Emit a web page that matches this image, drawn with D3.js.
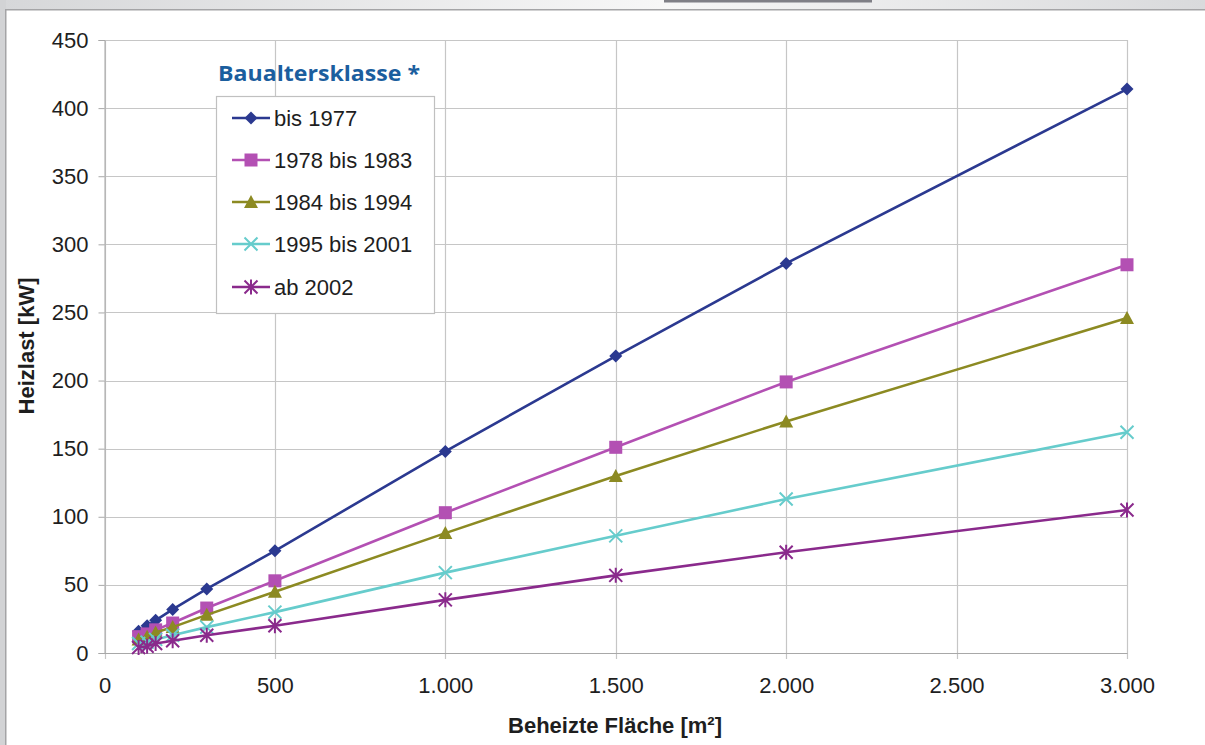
<!DOCTYPE html>
<html><head><meta charset="utf-8">
<script src="https://cdn.jsdelivr.net/npm/d3@7"></script>
<style>
html,body{margin:0;padding:0;background:#fff;}
svg{display:block;}
</style></head>
<body>
<svg id="c" width="1205" height="745"></svg>
<script>
const areas = [100, 125, 150, 200, 300, 500, 1000, 1500, 2000, 3000];
const seriesNames = ["bis 1977", "1978 bis 1983", "1984 bis 1994", "1995 bis 2001", "ab 2002"];
const bis1977   = [16, 20, 24, 32, 47, 75, 148, 218, 286, 414];
const s1978_1983 = [12, 14, 17, 22, 33, 53, 103, 151, 199, 285];
const s1984_1994 = [10, 12, 15, 19, 28, 45, 88, 130, 170, 246];
const s1995_2001 = [7, 8, 10, 13, 19, 30, 59, 86, 113, 162];
const ab2002    = [4, 5, 7, 9, 13, 20, 39, 57, 74, 105];
const xTicks = [0, 500, 1000, 1500, 2000, 2500, 3000];
const xTickLabels = ["0", "500", "1.000", "1.500", "2.000", "2.500", "3.000"];
const yTicks = [0, 50, 100, 150, 200, 250, 300, 350, 400, 450];

const seriesValues = [bis1977, s1978_1983, s1984_1994, s1995_2001, ab2002];
const colors = ["#2b3990", "#b350b3", "#8c8a22", "#66cccc", "#8a2a8c"];
const markers = ["diamond", "square", "triangle", "x", "asterisk"];
const FONT = "Liberation Sans, Arial, sans-serif";

const svg = d3.select("#c");

// frame decoration
const defs = svg.append("defs");
const grad = defs.append("linearGradient").attr("id","tg").attr("x1","0").attr("x2","1");
grad.append("stop").attr("offset","0").attr("stop-color","#d6d7d9");
grad.append("stop").attr("offset","0.55").attr("stop-color","#f7f7f7");
grad.append("stop").attr("offset","1").attr("stop-color","#d9dadc");
svg.append("rect").attr("x",0).attr("y",0).attr("width",1205).attr("height",10).attr("fill","url(#tg)");
svg.append("rect").attr("x",0).attr("y",0).attr("width",6).attr("height",745).attr("fill","#d2d3d5");
svg.append("rect").attr("x",5).attr("y",9).attr("width",1200).attr("height",1.5).attr("fill","#a4a4a6");
svg.append("rect").attr("x",5).attr("y",9).attr("width",1.5).attr("height",736).attr("fill","#a4a4a6");
svg.append("rect").attr("x",664).attr("y",0).attr("width",208).attr("height",2.5).attr("fill","#7f7f86");

const x = d3.scaleLinear().domain([0, 3000]).range([104.5, 1127]);
const y = d3.scaleLinear().domain([0, 450]).range([653, 40]);

// grid
const g = svg.append("g");
g.selectAll(".hg").data(yTicks).join("line")
  .attr("x1", x(0)).attr("x2", x(3000))
  .attr("y1", d => Math.round(y(d))+0.5).attr("y2", d => Math.round(y(d))+0.5)
  .attr("stroke", "#c6c6c6").attr("stroke-width", 1.2);
g.selectAll(".vg").data(xTicks).join("line")
  .attr("y1", y(450)).attr("y2", y(0)+6)
  .attr("x1", d => Math.round(x(d))+0.5).attr("x2", d => Math.round(x(d))+0.5)
  .attr("stroke", "#c6c6c6").attr("stroke-width", 1.2);

// axes
const yAxis = d3.axisLeft(y).tickValues(yTicks).tickSize(6).tickPadding(10);
const ya = svg.append("g").attr("transform", `translate(${x(0)},0)`).call(yAxis);
ya.select(".domain").attr("stroke","#a8a8a8");
ya.selectAll(".tick line").attr("stroke","#a8a8a8");
ya.selectAll("text").attr("font-family",FONT).attr("font-size",22).attr("fill","#1e1e1e");

const xAxis = d3.axisBottom(x).tickValues(xTicks).tickFormat((d,i)=>xTickLabels[i]).tickSize(0).tickPadding(24);
const xa = svg.append("g").attr("transform", `translate(0,${y(0)})`).call(xAxis);
xa.select(".domain").attr("stroke","#a8a8a8");
xa.selectAll("text").attr("font-family",FONT).attr("font-size",22).attr("fill","#1e1e1e");

// axis titles
svg.append("text").attr("x", 615).attr("y", 733).attr("text-anchor","middle")
  .attr("font-family",FONT).attr("font-weight","bold").attr("font-size",22).attr("fill","#1e1e1e")
  .text("Beheizte Fläche [m²]");
svg.append("text").attr("transform","translate(34,346) rotate(-90)").attr("text-anchor","middle")
  .attr("font-family",FONT).attr("font-weight","bold").attr("font-size",22).attr("fill","#1e1e1e")
  .text("Heizlast [kW]");

// marker drawing
function drawMarker(sel, type, color) {
  if (type === "diamond") {
    sel.append("path").attr("d", "M0,-6.5L6.5,0L0,6.5L-6.5,0Z").attr("fill", color);
  } else if (type === "square") {
    sel.append("rect").attr("x",-6.5).attr("y",-6.5).attr("width",13).attr("height",13).attr("fill", color);
  } else if (type === "triangle") {
    sel.append("path").attr("d", "M0,-7L7,6L-7,6Z").attr("fill", color);
  } else if (type === "x") {
    sel.append("path").attr("d", "M-6.5,-6.5L6.5,6.5M-6.5,6.5L6.5,-6.5").attr("stroke", color).attr("stroke-width", 2).attr("fill","none");
  } else if (type === "asterisk") {
    sel.append("path").attr("d", "M-6.5,-6.5L6.5,6.5M-6.5,6.5L6.5,-6.5M0,-7.5L0,7.5").attr("stroke", color).attr("stroke-width", 2).attr("fill","none");
  }
}

const line = d3.line().x(d => x(d[0])).y(d => y(d[1]));
seriesValues.forEach((vals, i) => {
  const pts = areas.map((a, j) => [a, vals[j]]);
  const sg = svg.append("g");
  sg.append("path").datum(pts).attr("d", line).attr("fill","none")
    .attr("stroke", colors[i]).attr("stroke-width", 2.6);
  pts.forEach(p => {
    const m = sg.append("g").attr("transform", `translate(${x(p[0])},${y(p[1])})`);
    drawMarker(m, markers[i], colors[i]);
  });
});

// legend
svg.append("text").attr("x", 218).attr("y", 81)
  .attr("font-family","Open Sans, Noto Sans, sans-serif").attr("font-weight","bold").attr("font-size",21).attr("fill","#1b5e9e")
  .attr("textLength", 202).attr("lengthAdjust","spacingAndGlyphs")
  .text("Baualtersklasse *");
const lg = svg.append("g");
lg.append("rect").attr("x", 216.5).attr("y", 96.5).attr("width", 218).attr("height", 217)
  .attr("fill","#fff").attr("stroke","#c0c0c0").attr("stroke-width",1.2);
const legY = [118, 160, 202, 244, 287];
seriesNames.forEach((name, i) => {
  const row = lg.append("g").attr("transform", `translate(0,${legY[i]})`);
  row.append("line").attr("x1", 232).attr("x2", 270).attr("y1",0).attr("y2",0)
    .attr("stroke", colors[i]).attr("stroke-width", 2.6);
  const m = row.append("g").attr("transform","translate(251,0)");
  drawMarker(m, markers[i], colors[i]);
  row.append("text").attr("x", 274).attr("y", 8)
    .attr("font-family",FONT).attr("font-size",22).attr("fill","#1e1e1e")
    .text(name);
});
</script>
</body></html>
